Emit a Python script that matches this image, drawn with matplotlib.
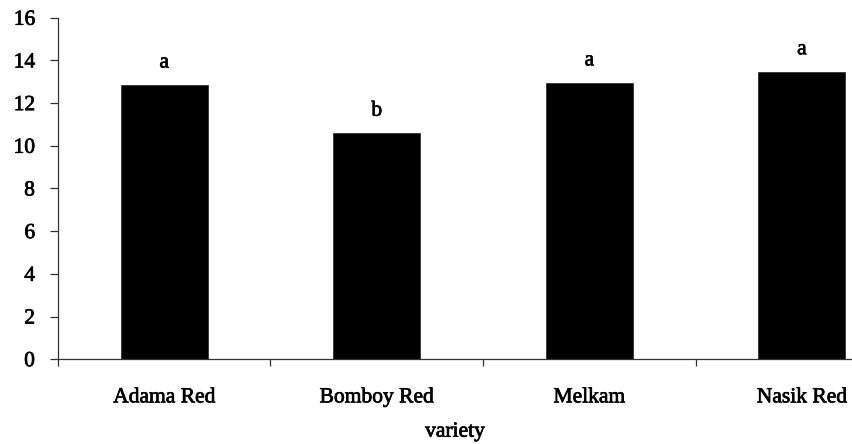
import numpy as np
import matplotlib
matplotlib.use('Agg')
import matplotlib.pyplot as plt
import matplotlib.patheffects as pe
from matplotlib.ticker import FixedLocator, NullFormatter

varieties = ['Adama Red', 'Bomboy Red', 'Melkam', 'Nasik Red']
values = [12.85, 10.59, 12.95, 13.47]
letters = ['a', 'b', 'a', 'a']
y_ticks = [0, 2, 4, 6, 8, 10, 12, 14, 16]


def main():
    plt.rcParams['font.family'] = ['Liberation Serif', 'DejaVu Serif']
    # the original text is a heavy, slightly blurred Times
    heavy = [pe.withStroke(linewidth=0.5, foreground='black')]

    fig = plt.figure(figsize=(8.52, 4.44), dpi=100)
    ax = fig.add_axes([0.068, 0.191, 0.932, 0.769])

    x = np.arange(len(varieties))
    ax.bar(x, values, width=0.41, color='black', edgecolor='#333333', linewidth=0.6)

    # significance letters above the bars
    for xi, v, lab in zip(x, values, letters):
        ax.annotate(lab, (xi, v), xytext=(0, 9), textcoords='offset points',
                    ha='center', va='bottom', fontsize=15.5, path_effects=heavy)

    # cropped on the right like the original
    ax.set_xlim(-0.5, 3.236)
    ax.set_ylim(0, 16)
    ax.set_yticks(y_ticks)

    # ticks at category boundaries, labels centred between them
    ax.xaxis.set_major_locator(FixedLocator([-0.5, 0.5, 1.5, 2.5]))
    ax.xaxis.set_major_formatter(NullFormatter())
    ax.xaxis.set_minor_locator(FixedLocator(list(x)))
    ax.set_xticklabels(varieties, minor=True)
    ax.tick_params(axis='x', which='minor', length=0, pad=21, labelsize=15.5)
    ax.tick_params(axis='x', which='major', length=5, width=0.9, color='#333333', direction='out')
    ax.tick_params(axis='y', length=5.5, width=0.9, color='#333333', direction='out', labelsize=15.5, pad=11)

    for side in ['top', 'right']:
        ax.spines[side].set_visible(False)
    for side in ['left', 'bottom']:
        ax.spines[side].set_color('#333333')
        ax.spines[side].set_linewidth(0.9)

    ax.set_xlabel('variety', fontsize=15.5, labelpad=11)

    for t in ax.get_xticklabels(minor=True) + ax.get_yticklabels() + [ax.xaxis.label]:
        t.set_path_effects(heavy)

    fig.savefig('out.png', dpi=100)
    return


if __name__ == "__main__":
    main()
